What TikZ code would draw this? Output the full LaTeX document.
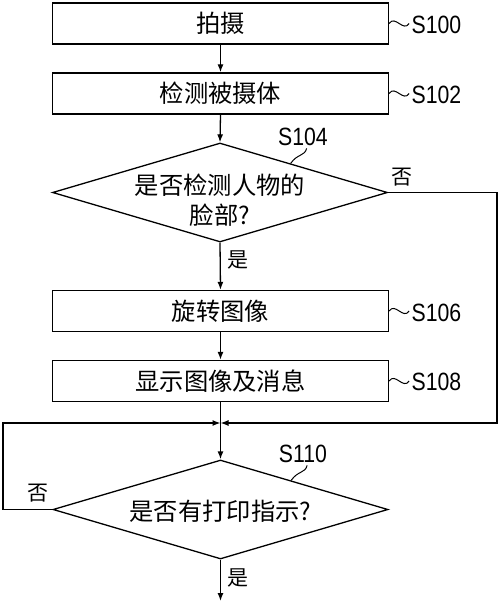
\documentclass[tikz,border=0pt]{standalone}
\usepackage{fontspec}
\setmainfont{Liberation Sans}
\newfontfamily\cjk{Noto Sans CJK SC}
\usetikzlibrary{shapes.geometric,arrows.meta,calc}
\begin{document}
\begin{tikzpicture}[x=1pt,y=-1pt,line width=1.3pt,>={Latex[length=8pt,width=6pt]},
  proc/.style={draw,minimum width=336pt,minimum height=41pt,inner sep=0pt,font=\cjk\fontsize{24.3}{30}\selectfont},
  dec/.style={draw,diamond,minimum width=335pt,minimum height=99pt,inner sep=0pt},
  txt/.style={font=\cjk\fontsize{24.3}{30}\selectfont,align=center,inner sep=0pt},
  yn/.style={font=\cjk\fontsize{21}{21}\selectfont,inner sep=0pt},
  slab/.style={font=\fontsize{25}{25}\selectfont,inner sep=0pt},
  lead/.style={line width=1pt}]
\useasboundingbox (0,0) rectangle (500,602);
\node[proc] (b100) at (220.5,23.5) {拍摄};
\node[proc] (b102) at (220.5,93.5) {检测被摄体};
\node[dec] (d1) at (220,192.5) {};
\node[txt] (t1) at (220,200) {是否检测人物的\\脸部?};
\node[proc] (b106) at (220.5,311) {旋转图像};
\node[proc] (b108) at (220.5,381) {显示图像及消息};
\node[dec] (d2) at (220.5,509.5) {};
\node[txt] (t2) at (220.5,511) {是否有打印指示?};
\coordinate (j) at (220.5,423);
\coordinate (rr) at (497,423);
\coordinate (ll) at (3,423);
\coordinate (bot) at (220.5,601);
% step labels
\node[slab,anchor=west] (s100) at (411,25) {\scalebox{0.85}[1]{S100}};
\node[slab,anchor=west] (s102) at (411,95) {\scalebox{0.85}[1]{S102}};
\node[slab,anchor=west] (s106) at (411,313) {\scalebox{0.85}[1]{S106}};
\node[slab,anchor=west] (s108) at (411,382) {\scalebox{0.85}[1]{S108}};
\node[slab] (s104) at (303,137) {\scalebox{0.85}[1]{S104}};
\node[slab] (s110) at (303,454) {\scalebox{0.85}[1]{S110}};
\foreach \b in {b100,b102,b106,b108}
  \draw[lead] (\b.east) .. controls +(6,-9) and +(-6,9) .. +(20,0);
\coordinate (e1) at ($(d1.north)!0.42!(d1.east)$);
\coordinate (e2) at ($(d2.north)!0.42!(d2.east)$);
\draw[lead] (e1) .. controls +(7,-10) and +(-2,8) .. +(16,-15);
\draw[lead] (e2) .. controls +(7,-10) and +(-2,8) .. +(16,-15);
% connectors
\draw[->] (b100.south) -- (b102.north);
\draw[->] (b102.south) -- (d1.north);
\draw[->] (d1.south) -- (b106.north);
\draw[->] (b106.south) -- (b108.north);
\draw[->] (b108.south) -- (d2.north);
\draw[->] (d1.east) -| (rr) -- (j);
\draw[->] (d2.west) -| (ll) -- (j);
\draw[->] (d2.south) -- (bot);
\node[yn] (y1) at (238,260) {是};
\node[yn] (n1) at (402,177) {否};
\node[yn] (n2) at (38,493) {否};
\node[yn] (y2) at (238,578) {是};
\end{tikzpicture}
\end{document}
